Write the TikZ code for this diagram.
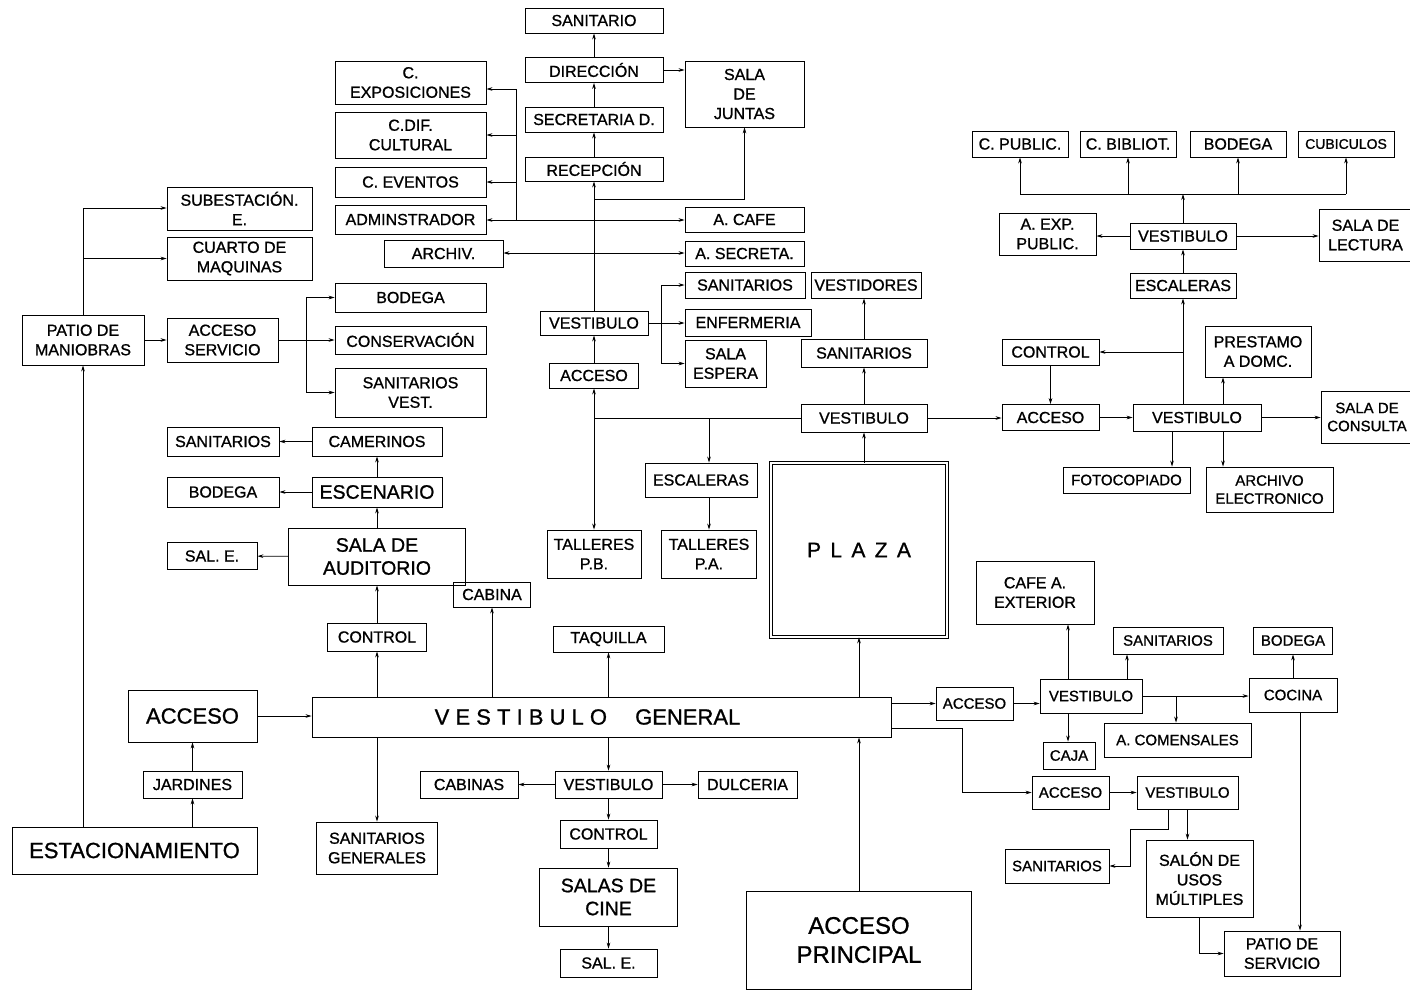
\documentclass[tikz,border=0pt]{standalone}
\usepackage{fontspec}
\setmainfont{Liberation Sans}[FakeBold=1]
\usepackage{tikz}
\usetikzlibrary{positioning}
\usetikzlibrary{arrows.meta}
\usetikzlibrary{calc}
\tikzset{>={Stealth[length=6pt,width=3.6pt]}}
\tikzset{
  box/.style={draw, line width=.8pt, inner sep=1pt, align=center, font=\fontsize{16}{19.5}\selectfont},
  sbox/.style={box, font=\fontsize{15}{18}\selectfont},
  bbox/.style={box, font=\fontsize{19.5}{23}\selectfont},
  lbox/.style={box, font=\fontsize{22}{26}\selectfont},
  xbox/.style={box, font=\fontsize{24}{29}\selectfont},
  sz/.style 2 args={minimum width=#1pt, minimum height=#2pt}
}

\begin{document}
\begin{tikzpicture}[x=1pt, y=-1pt, line width=.8pt]
\useasboundingbox (0,0) rectangle (1410,989);
\clip (0,0) rectangle (1410,989);

% direccion
\node[box, sz={138}{25}] (san0) at (594,20.5) {SANITARIO};
\node[box, sz={138}{25}] (dir) at (594,70) {DIRECCIÓN};
\node[box, sz={138}{25}] (secd) at (594,119.5) {SECRETARIA D.};
\node[box, sz={138}{24}] (recep) at (594,169) {RECEPCIÓN};
\node[box, sz={119}{66}] (juntas) at (744.5,94) {SALA\\DE\\JUNTAS};
\node[box, sz={119}{25}] (acafe) at (744.5,219.5) {A. CAFE};
\node[box, sz={119}{25}] (asecr) at (744.5,253.5) {A. SECRETA.};
\node[box, sz={151}{43}] (cexp) at (410.5,82.5) {C.\\EXPOSICIONES};
\node[box, sz={151}{46}] (cdif) at (410.5,135) {C.DIF.\\CULTURAL};
\node[box, sz={151}{30}] (cev) at (410.5,182) {C. EVENTOS};
\node[box, sz={151}{29}] (admin) at (410.5,219.5) {ADMINSTRADOR};
\node[box, sz={119}{27}] (archiv) at (443.5,253.5) {ARCHIV.};

% talleres y plaza
\node[box, sz={120}{26}] (sanit1) at (745,285) {SANITARIOS};
\node[box, sz={126}{27}] (enferm) at (748,322.5) {ENFERMERIA};
\node[box, sz={81}{47}] (espera) at (725.5,363.5) {SALA\\ESPERA};
\node[box, sz={110}{26}] (vestid) at (866,285) {VESTIDORES};
\node[box, sz={108}{24}] (vest1) at (594,323) {VESTIBULO};
\node[box, sz={89}{25}] (acc1) at (594,375.5) {ACCESO};
\node[box, sz={126}{28}] (sanit2) at (864,353) {SANITARIOS};
\node[box, sz={126}{28}] (vest2) at (864,418) {VESTIBULO};
\node[box, sz={112}{34}] (esc1) at (701,480) {ESCALERAS};
\node[box, sz={94}{48}] (tpb) at (594,554) {TALLERES\\P.B.};
\node[box, sz={95}{48}] (tpa) at (709,554) {TALLERES\\P.A.};
\node[box, sz={176}{174}, double, double distance=2.2pt, line width=.7pt,
  font=\fontsize{21}{24}\selectfont] (plaza) at (859,550) {P\, L\, A\, Z\, A};
\node[box, sz={77}{25}] (cabina) at (492,594.5) {CABINA};

% servicio y auditorio
\node[box, sz={145}{43}] (subest) at (239.5,208.5) {SUBESTACIÓN.\\E.};
\node[box, sz={145}{43}] (cuarto) at (239.5,258.5) {CUARTO DE\\MAQUINAS};
\node[box, sz={151}{29}] (bod1) at (410.5,297.5) {BODEGA};
\node[box, sz={151}{28}] (conserv) at (410.5,340) {CONSERVACIÓN};
\node[box, sz={151}{49}] (sanvest) at (410.5,392.5) {SANITARIOS\\VEST.};
\node[box, sz={122}{50}] (patio) at (83,340) {PATIO DE\\MANIOBRAS};
\node[box, sz={111}{44}] (accserv) at (222.5,340) {ACCESO\\SERVICIO};
\node[box, sz={112}{29}] (sanit3) at (223,441.5) {SANITARIOS};
\node[box, sz={130}{29}] (camer) at (377,441.5) {CAMERINOS};
\node[box, sz={112}{30}] (bod2) at (223,492) {BODEGA};
\node[bbox, sz={130}{30}] (escen) at (377,492) {ESCENARIO};
\node[box, sz={90}{27}] (sale1) at (212,556) {SAL. E.};
\node[bbox, sz={177}{57}] (auditorio) at (377,556.5) {SALA DE\\AUDITORIO};
\node[box, sz={99}{28}] (ctrl1) at (377,637) {CONTROL};

% acceso y vestibulo general
\node[lbox, sz={129}{52}] (acc2) at (192.5,716) {ACCESO};
\node[box, sz={99}{27}] (jard) at (192.5,784.5) {JARDINES};
\node[lbox, sz={245}{47}] (estac) at (134.5,850.5) {ESTACIONAMIENTO};
\node[lbox, sz={579}{40}] (vg) at (601.5,717) {V E S T I B U L O\quad\ GENERAL\hspace*{28pt}};
\node[box, sz={121}{52}] (sangen) at (377,848) {SANITARIOS\\GENERALES};
\node[box, sz={98}{27}] (cabinas) at (469,784.5) {CABINAS};
\node[box, sz={111}{26}] (taq) at (608.5,639) {TAQUILLA};
\node[box, sz={107}{27}] (vest3) at (608.5,784.5) {VESTIBULO};
\node[box, sz={99}{27}] (dulc) at (747.5,784.5) {DULCERIA};
\node[box, sz={97}{28}] (ctrl2) at (608.5,834) {CONTROL};
\node[bbox, sz={138}{58}] (cine) at (608.5,897) {SALAS DE\\CINE};
\node[box, sz={97}{28}] (sale2) at (608.5,963) {SAL. E.};
\node[xbox, sz={225}{98}] (accp) at (859,940) {ACCESO\\PRINCIPAL};

% biblioteca
\node[box, sz={96}{26}] (cpub) at (1020,144) {C. PUBLIC.};
\node[box, sz={96}{26}] (cbib) at (1128,144) {C. BIBLIOT.};
\node[box, sz={96}{26}] (bod3) at (1238,144) {BODEGA};
\node[sbox, sz={96}{26}, font=\fontsize{14}{16}\selectfont] (cubic) at (1346,144) {CUBICULOS};
\node[box, sz={97}{42}] (aexp) at (1047.5,234) {A. EXP.\\PUBLIC.};
\node[box, sz={106}{26}] (vest4) at (1183,236) {VESTIBULO};
\node[box, sz={93}{52}] (lect) at (1365.5,235) {SALA DE\\LECTURA};
\node[box, sz={106}{25}] (esc2) at (1183,285.5) {ESCALERAS};
\node[box, sz={97}{26}] (ctrl3) at (1050.5,352) {CONTROL};
\node[box, sz={106}{51}] (prest) at (1258,351.5) {PRESTAMO\\A DOMC.};
\node[box, sz={97}{26}] (acc3) at (1050.5,417.5) {ACCESO};
\node[box, sz={128}{27}] (vest5) at (1197,417.5) {VESTIBULO};
\node[sbox, sz={92}{52}] (consul) at (1367,417) {SALA DE\\CONSULTA};
\node[sbox, sz={127}{26}] (foto) at (1126.5,480) {FOTOCOPIADO};
\node[sbox, sz={127}{45}] (arche) at (1269.5,489.5) {ARCHIVO\\ELECTRONICO};

% cafeteria y salon
\node[box, sz={118}{63}] (cafe) at (1035,592.5) {CAFE A.\\EXTERIOR};
\node[sbox, sz={110}{27}] (sanit4) at (1168,640.5) {SANITARIOS};
\node[sbox, sz={79}{27}] (bod4) at (1293,640.5) {BODEGA};
\node[sbox, sz={77}{33}] (acc4) at (974.5,703.5) {ACCESO};
\node[sbox, sz={102}{34}] (vest6) at (1091,696) {VESTIBULO};
\node[sbox, sz={88}{34}] (cocina) at (1293,695) {COCINA};
\node[sbox, sz={52}{27}] (caja) at (1069,755.5) {CAJA};
\node[sbox, sz={147}{34}] (acom) at (1177.5,740) {A. COMENSALES};
\node[sbox, sz={77}{33}] (acc5) at (1070.5,792.5) {ACCESO};
\node[sbox, sz={101}{33}] (vest7) at (1187.5,792.5) {VESTIBULO};
\node[sbox, sz={104}{34}] (sanit5) at (1057,866) {SANITARIOS};
\node[box, sz={107}{77}] (salon) at (1199.5,878.5) {SALÓN DE\\USOS\\MÚLTIPLES};
\node[box, sz={116}{45}] (pserv) at (1282,953.5) {PATIO DE\\SERVICIO};

% uniones
\coordinate (jA) at (594,199);
\coordinate (jB) at (594,220);
\coordinate (jC) at (516,220);
\coordinate (jD) at (516,89);
\coordinate (jE) at (594,253);
\coordinate (jF) at (661,323);
\coordinate (jG) at (594,418);
\coordinate (jH) at (709,418);
\coordinate (jI) at (1183,352);
\coordinate (jL) at (1183,194);
\coordinate (jM) at (83,208);
\coordinate (jN) at (306,340);
\coordinate (jO) at (962,728);
\coordinate (jP) at (1176,696);

% direccion
\draw[->] (dir) -- (san0);
\draw[->] (secd) -- (dir);
\draw[->] (recep) -- (secd);
\draw[->] (vest1) -- (recep);
\draw[->] (dir.east) -- (dir.east -| juntas.west);
\draw[->] (jA) -| (juntas.south);
\draw[->] (jB) -- (jB -| acafe.west);
\draw[->] (jB) -- (jB -| admin.east);
\draw (jC) -- (jD);
\draw[->] (jD) -- (jD -| cexp.east);
\draw[->] (jC |- cdif.east) -- (cdif.east);
\draw[->] (jC |- cev.east) -- (cev.east);
\draw[->] (jE) -- (jE -| archiv.east);
\draw[->] (jE) -- (jE -| asecr.west);
\draw (vest1.east) -- (jF);
\draw[->] (jF) |- (sanit1.west);
\draw[->] (jF) -- (jF -| enferm.west);
\draw[->] (jF) |- (espera.west);
\draw[->] (acc1) -- (vest1);
\draw (jG) -- (jG -| vest2.west);
\draw[->] (jG) -- (acc1.south);
\draw[->] (jG) -- (tpb.north);
\draw[->] (jH) -- (jH |- esc1.north);
\draw[->] (esc1.south -| jH) -- (jH |- tpa.north);
\draw[->] (vest2) -- (sanit2);
\draw[->] (sanit2.north) -- (sanit2.north |- vestid.south);
\draw[->] (plaza.north -| vest2) -- (vest2.south);

% biblioteca
\draw[->] (vest2.east) -- (vest2.east -| acc3.west);
\draw[->] (ctrl3) -- (acc3);
\draw[->] (acc3) -- (vest5);
\draw[->] (vest5.east) -- (vest5.east -| consul.west);
\draw[->] (vest5.north -| jI) -- (esc2.south);
\draw[->] (jI) -- (jI -| ctrl3.east);
\draw[->] ([xshift=26pt]vest5.north) -- ([xshift=26pt]vest5.north |- prest.south);
\draw[->] ([xshift=26pt]vest5.south) -- ([xshift=26pt]vest5.south |- arche.north);
\draw[->] ([xshift=-25pt]vest5.south) -- ([xshift=-25pt]vest5.south |- foto.north);
\draw[->] (esc2) -- (vest4);
\draw[->] (vest4.west) -- (vest4.west -| aexp.east);
\draw[->] (vest4.east) -- (vest4.east -| lect.west);
\draw[->] (vest4.north) -- (jL);
\draw (jL -| cpub) -- (jL -| cubic);
\draw[->] (jL -| cpub) -- (cpub.south);
\draw[->] (jL -| cbib) -- (cbib.south);
\draw[->] (jL -| bod3) -- (bod3.south);
\draw[->] (jL -| cubic) -- (cubic.south);

% servicio y auditorio
\draw (patio.north) -- (jM);
\draw[->] (jM) -- (jM -| subest.west);
\draw[->] (patio.north |- cuarto.west) -- (cuarto.west);
\draw[->] (patio) -- (accserv);
\draw (accserv.east) -- (jN);
\draw[->] (jN) |- (bod1.west);
\draw[->] (jN) -- (conserv.west);
\draw[->] (jN) |- (sanvest.west);
\draw[->] (estac.north -| patio) -- (patio.south);
\draw[->] (estac.north -| jard) -- (jard.south);
\draw[->] (jard) -- (acc2);
\draw[->] (acc2.east) -- (acc2.east -| vg.west);
\draw[->] (vg.north -| ctrl1) -- (ctrl1.south);
\draw[->] (ctrl1) -- (auditorio);
\draw[->] (auditorio) -- (escen);
\draw[->] (escen) -- (camer);
\draw[->] (camer) -- (sanit3);
\draw[->] (escen) -- (bod2);
\draw[->] (auditorio) -- (sale1);
\draw[->] (vg.north -| cabina) -- (cabina.south);

% vestibulo general
\draw[->] (vg.north -| taq) -- (taq.south);
\draw[->] (vg.south -| sangen) -- (sangen.north);
\draw[->] (vg.south -| vest3) -- (vest3.north);
\draw[->] (vest3) -- (cabinas);
\draw[->] (vest3) -- (dulc);
\draw[->] (vest3) -- (ctrl2);
\draw[->] (ctrl2) -- (cine);
\draw[->] (cine) -- (sale2);
\draw[->] (accp.north) -- (accp.north |- vg.south);
\draw[->] (vg.north -| plaza) -- (plaza.south);

% cafeteria y salon
\draw[->] (vg.east |- acc4) -- (acc4.west);
\draw (vg.east |- jO) -- (jO);
\draw[->] (jO) |- (acc5.west);
\draw[->] (acc4.east) -- (acc4.east -| vest6.west);
\draw[->] ([xshift=-23pt]vest6.north) -- ([xshift=-23pt]vest6.north |- cafe.south);
\draw[->] ([xshift=36pt]vest6.north) -- ([xshift=36pt]vest6.north |- sanit4.south);
\draw[->] ([xshift=-23pt]vest6.south) -- ([xshift=-23pt]vest6.south |- caja.north);
\draw[->] (vest6.east) -- (vest6.east -| cocina.west);
\draw[->] (jP) -- (jP |- acom.north);
\draw[->] (cocina) -- (bod4);
\draw[->] ([xshift=7pt]cocina.south) -- ([xshift=7pt]cocina.south |- pserv.north);
\draw[->] (acc5) -- (vest7);
\draw[->] (vest7.south) -- (vest7.south |- salon.north);
\draw[->] ([xshift=-19pt]vest7.south) -- ++(0,20) -| ($(sanit5.east)+(21,0)$) -- (sanit5.east);
\draw[->] (salon.south) |- (pserv.west);
\end{tikzpicture}
\end{document}
